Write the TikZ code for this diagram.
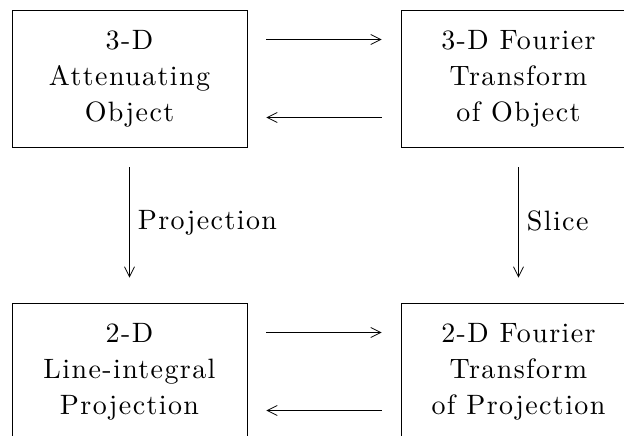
\documentclass[tikz,border=0pt]{standalone}
\usepackage{fontspec}
\setmainfont{lmroman10-regular}[Extension=.otf,LetterSpace=5]
\usepackage{tikz}
\usetikzlibrary{arrows.meta,positioning}

\tikzset{
  stage/.style={draw,line width=0.8pt,minimum width=235pt,minimum height=137pt,
    inner sep=0pt,align=center,font=\fontsize{28}{36}\selectfont},
  flow/.style={line width=0.8pt,-{Straight Barb[length=10pt,width=10pt]}},
  tag/.style={font=\fontsize{28}{30}\selectfont,inner sep=8pt}
}

\begin{document}
\begin{tikzpicture}[x=1pt,y=1pt]
        \useasboundingbox (0,0) rectangle (624,436);
        \clip (0,0) rectangle (624,436);
        % boxes
        \node[stage] (obj) at (129.5,357.5) {3-D\\Attenuating\\Object};
        \node[stage] (ft3) at (518.5,357.5) {3-D Fourier\\Transform\\of Object};
        \node[stage] (proj) at (129.5,64.5) {2-D\\Line-integral\\Projection};
        \node[stage] (ft2) at (518.5,64.5) {2-D Fourier\\Transform\\of Projection};
        % transform pairs
        \draw[flow,shorten <=19pt,shorten >=19pt] ([yshift=39pt]obj.east) -- ([yshift=39pt]ft3.west);
        \draw[flow,shorten <=19pt,shorten >=19pt] ([yshift=-39pt]ft3.west) -- ([yshift=-39pt]obj.east);
        \draw[flow,shorten <=19pt,shorten >=19pt] ([yshift=39pt]proj.east) -- ([yshift=39pt]ft2.west);
        \draw[flow,shorten <=19pt,shorten >=19pt] ([yshift=-39pt]ft2.west) -- ([yshift=-39pt]proj.east);
        % downward steps
        \draw[flow,shorten <=20pt,shorten >=25pt] (obj) -- node[tag,right,yshift=2pt] {Projection} (proj);
        \draw[flow,shorten <=20pt,shorten >=25pt] (ft3) -- node[tag,right,yshift=4pt] {Slice} (ft2);
      \end{tikzpicture}
\end{document}
